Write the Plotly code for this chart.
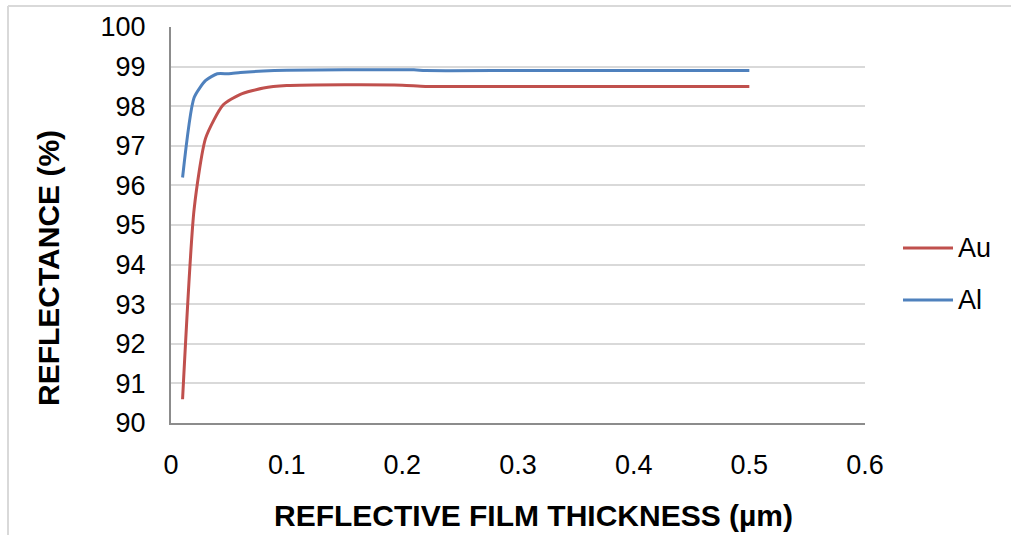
import plotly.graph_objects as go

# Reflectance of Au and Al films versus film thickness
thickness_au = [0.01, 0.02, 0.03, 0.045, 0.06, 0.08, 0.1, 0.15, 0.2, 0.22, 0.3, 0.4, 0.5]
reflect_au = [90.6, 95.4, 97.2, 98.03, 98.3, 98.46, 98.52, 98.54, 98.53, 98.5, 98.5, 98.5, 98.5]

thickness_al = [0.01, 0.02, 0.03, 0.04, 0.05, 0.06, 0.08, 0.1, 0.15, 0.21, 0.22, 0.3, 0.4, 0.5]
reflect_al = [96.2, 98.22, 98.65, 98.82, 98.82, 98.85, 98.89, 98.91, 98.92, 98.92, 98.9, 98.9, 98.9, 98.9]

series_names = ["Au", "Al"]
series_colors = ["#C0504D", "#4F81BD"]

x_ticks = [0, 0.1, 0.2, 0.3, 0.4, 0.5, 0.6]
y_ticks = [90, 91, 92, 93, 94, 95, 96, 97, 98, 99, 100]

FONT = "Liberation Sans, Arial, sans-serif"

fig = go.Figure()
for name, xs, ys, color in zip(series_names, [thickness_au, thickness_al],
                               [reflect_au, reflect_al], series_colors):
    fig.add_trace(go.Scatter(
        x=xs, y=ys, name=name, mode="lines",
        line=dict(color=color, width=3, shape="spline", smoothing=0.6),
        showlegend=False,
    ))

W, H = 1011, 535
L, R, T, B = 171, 146, 27, 112
pw, ph = W - L - R, H - T - B

def px(x):
    return (x - L) / pw

def py(y):
    return (H - B - y) / ph

fig.update_layout(
    width=W, height=H,
    margin=dict(l=L, r=R, t=T, b=B),
    paper_bgcolor="white", plot_bgcolor="white",
    font=dict(family=FONT, color="#000000"),
    xaxis=dict(
        range=[0, 0.6], tickvals=x_ticks, ticktext=[f"{v:g}" for v in x_ticks],
        showgrid=False, zeroline=False,
        showline=True, linecolor="#8c8c8c", linewidth=2,
        ticks="", ticklabelstandoff=17,
        tickfont=dict(size=27, family=FONT, color="#000000"),
    ),
    yaxis=dict(
        range=[90, 100], tickvals=y_ticks, ticktext=[str(v) for v in y_ticks],
        showgrid=True, gridcolor="#d9d9d9", gridwidth=2,
        zeroline=False,
        showline=True, linecolor="#8c8c8c", linewidth=2,
        ticks="", ticklabelstandoff=18,
        tickfont=dict(size=27, family=FONT, color="#000000"),
    ),
)

# Axis titles
fig.add_annotation(
    text="<b>REFLECTIVE FILM THICKNESS (µm)</b>", xref="paper", yref="paper",
    x=px(533), y=py(515), xanchor="center", yanchor="middle", showarrow=False,
    font=dict(size=30, family=FONT, color="#000000"),
)
fig.add_annotation(
    text="<b>REFLECTANCE (%)</b>", xref="paper", yref="paper",
    x=px(48), y=py(268), xanchor="center", yanchor="middle",
    showarrow=False, textangle=-90,
    font=dict(size=30, family=FONT, color="#000000"),
)

# Legend entries
legend_y = [248, 300]
for name, color, ly in zip(series_names, series_colors, legend_y):
    fig.add_shape(type="line", xref="paper", yref="paper",
                  x0=px(903), x1=px(953), y0=py(ly), y1=py(ly),
                  line=dict(color=color, width=3))
    fig.add_annotation(text=name, xref="paper", yref="paper",
                       x=px(956), y=py(ly), xanchor="left", yanchor="middle",
                       showarrow=False,
                       font=dict(size=27, family=FONT, color="#000000"))

# Chart area border (top and left edges)
fig.add_shape(type="line", xref="paper", yref="paper",
              x0=px(8), x1=px(1011), y0=py(6), y1=py(6),
              line=dict(color="#d9d9d9", width=2))
fig.add_shape(type="line", xref="paper", yref="paper",
              x0=px(8), x1=px(8), y0=py(6), y1=py(535),
              line=dict(color="#d9d9d9", width=2))

fig.write_html("out.html")
